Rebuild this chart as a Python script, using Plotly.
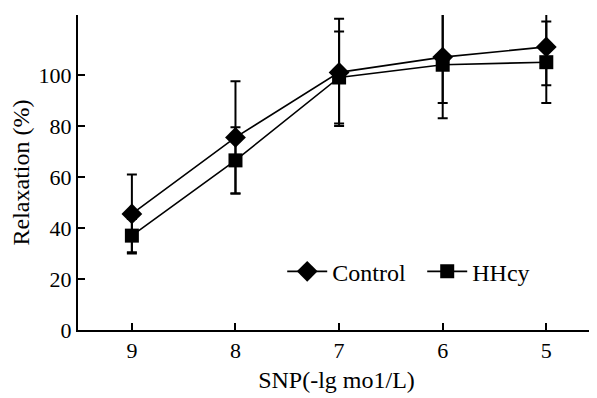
import plotly.graph_objects as go

snp = [9, 8, 7, 6, 5]
control = [45.5, 75.5, 101, 107, 111]
control_err = [15.5, 22, 21, 18, 15]
hhcy = [37, 66.5, 99, 104, 105]
hhcy_err = [6.5, 13, 18, 21, 16]
y_ticks = [0, 20, 40, 60, 80, 100]

font_family = "Liberation Serif, Times New Roman, serif"

fig = go.Figure()
fig.add_trace(go.Scatter(
    x=snp, y=control, name="Control", mode="lines+markers",
    line=dict(color="black", width=1.6),
    marker=dict(symbol="diamond", size=16, color="black"),
    error_y=dict(type="data", array=control_err, visible=True, color="black", thickness=2, width=5),
    cliponaxis=False,
))
fig.add_trace(go.Scatter(
    x=snp, y=hhcy, name="HHcy", mode="lines+markers",
    line=dict(color="black", width=1.6),
    marker=dict(symbol="square", size=14, color="black"),
    error_y=dict(type="data", array=hhcy_err, visible=True, color="black", thickness=2, width=5),
    cliponaxis=False,
))

fig.update_layout(
    width=589, height=390,
    margin=dict(l=70, r=2, t=7, b=68, autoexpand=False),
    paper_bgcolor="white", plot_bgcolor="white",
    font=dict(family=font_family, size=22, color="black"),
    showlegend=True,
    legend=dict(orientation="h", x=0.395, y=0.185, xanchor="left", yanchor="middle",
                font=dict(size=24), bgcolor="rgba(0,0,0,0)", itemwidth=40,
                entrywidth=85, entrywidthmode="pixels",
                tracegroupgap=0),
    xaxis=dict(
        range=[9.52, 4.53], tickmode="array", tickvals=snp, ticktext=[str(v) for v in snp],
        showline=True, linecolor="black", linewidth=2, ticks="inside", ticklen=7,
        tickwidth=1.5, tickcolor="black", showgrid=False, zeroline=False,
        title=dict(text="SNP(-lg mo1/L)", font=dict(size=24), standoff=9),
        tickfont=dict(size=22), automargin=False,
    ),
    yaxis=dict(
        range=[0, 123.5], tickmode="array", tickvals=y_ticks,
        showline=True, linecolor="black", linewidth=2, ticks="inside", ticklen=7,
        tickwidth=1.5, tickcolor="black", showgrid=False, zeroline=False,
        title=dict(text="Relaxation (%)", font=dict(size=24), standoff=8),
        tickfont=dict(size=22), automargin=False,
    ),
)

fig.write_html("out.html")
